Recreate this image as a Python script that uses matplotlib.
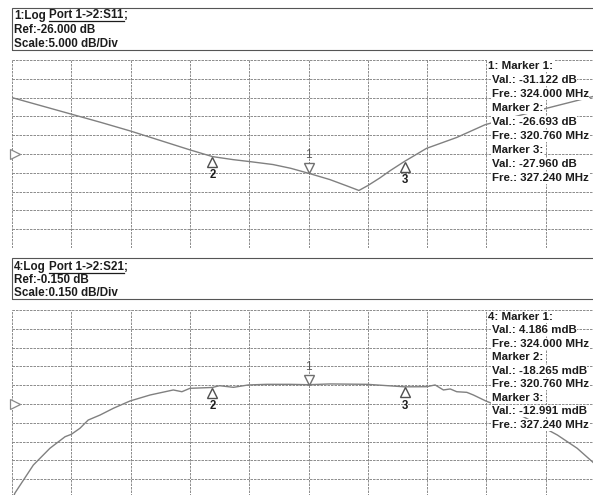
import numpy as np
import matplotlib
matplotlib.use("Agg")
import matplotlib.pyplot as plt
from matplotlib import font_manager as fm
from matplotlib.patches import Rectangle
from matplotlib.lines import Line2D
from matplotlib.transforms import offset_copy, IdentityTransform

# ---- sweep settings ----
f_start, f_stop = 314.0, 334.0          # MHz, 10 divisions
s11_ref, s11_scale = -26.0, 5.0         # dB, dB/div
s21_ref, s21_scale = -0.150, 0.150      # dB, dB/div

# ---- S11 trace (MHz, dB) ----
s11_freq = [314.0, 315.0, 316.0, 317.0, 318.0, 319.0, 320.0, 320.76, 321.46,
            322.0, 322.8, 323.4, 324.0, 324.72, 325.3, 325.7, 326.0, 326.4,
            326.76, 327.24, 327.98, 329.0, 329.96, 331.8, 333.6, 334.0]
s11_db = [-11.0, -13.2, -15.4, -17.6, -19.9, -22.4, -24.9, -26.69, -27.5,
          -28.0, -28.8, -29.8, -31.12, -32.8, -34.5, -35.7, -34.4, -32.4,
          -30.4, -27.96, -24.5, -21.6, -18.2, -14.3, -10.7, -10.0]

# ---- S21 trace (MHz, dB) ----
s21_freq = [314.0, 314.1, 314.72, 315.28, 315.79, 316.0, 316.29, 316.57, 316.97,
            317.42, 317.98, 318.66, 319.44, 319.73, 320.0, 320.76, 321.0, 321.47,
            321.97, 322.59, 323.38, 324.0, 324.72, 325.98, 327.24, 327.99, 328.27,
            328.55, 328.78, 329.0, 329.34, 329.56, 329.98, 331.0, 332.39, 333.06,
            333.57, 334.0]
s21_db = [-0.92, -0.86, -0.637, -0.503, -0.411, -0.392, -0.344, -0.278, -0.238,
          -0.184, -0.126, -0.078, -0.038, -0.052, -0.025, -0.018, -0.004, -0.017,
          0.002, 0.007, 0.007, 0.004, 0.010, 0.007, -0.013, -0.012, 0.002,
          -0.038, -0.030, -0.052, -0.057, -0.078, -0.126, -0.22, -0.397, -0.503,
          -0.61, -0.70]

# ---- markers ----
marker_ids = [1, 2, 3]
marker_freq = [324.000, 320.760, 327.240]
s11_marker_db = [-31.122, -26.693, -27.960]
s21_marker_db = [0.004186, -0.018265, -0.012991]

W, H = 593, 495
fig = plt.figure(figsize=(W / 100, H / 100), dpi=100)
fig.patch.set_facecolor("white")


def bold_font_path():
    for fam in ["Liberation Sans", "Roboto", "Open Sans", "DejaVu Sans"]:
        p = fm.findfont(fm.FontProperties(family=fam, weight="bold"),
                        fallback_to_default=False)
        if "bold" in p.lower():
            return p
    return fm.findfont(fm.FontProperties(weight="bold"))


BOLD = bold_font_path()


def bfont(size):
    return fm.FontProperties(fname=BOLD, size=size)


TXT = "#1c1c1c"
GRID = "#7a7a7a"
TRACE = "#808080"
FS_HEAD = 8.4
FS = 8.25


def fx(x):
    return x / W


def fy(y):
    return 1 - y / H


def header(top, bottom, lines, row_y, underline):
    fig.add_artist(Rectangle((fx(12), fy(bottom)), fx(600 - 12), fy(top) - fy(bottom),
                             transform=fig.transFigure, fill=False,
                             edgecolor="#555555", lw=0.8))
    renderer = fig.canvas.get_renderer()
    pre, mid, post = underline
    t1 = fig.text(fx(14), fy(row_y[0]), pre, fontproperties=bfont(FS_HEAD),
                  color=TXT, va="baseline")
    bb = t1.get_window_extent(renderer)
    t2 = fig.text(bb.x1 / W + fx(3.5), fy(row_y[0]), mid,
                  fontproperties=bfont(FS_HEAD), color=TXT, va="baseline")
    bb2 = t2.get_window_extent(renderer)
    fig.text(bb2.x1 / W, fy(row_y[0]), post, fontproperties=bfont(FS_HEAD),
             color=TXT, va="baseline")
    fig.add_artist(Line2D([bb2.x0, bb2.x1], [bb2.y0 + 0.5, bb2.y0 + 0.5],
                          transform=IdentityTransform(), color=TXT, lw=0.9))
    for txt, y in zip(lines, row_y[1:]):
        fig.text(fx(14), fy(y), txt, fontproperties=bfont(FS_HEAD), color=TXT,
                 va="baseline")


def panel(y_top, ref, scale, freq, vals, mvals):
    ax = fig.add_axes([fx(12), fy(y_top + 188), 1.0, 188 / H])
    ax.set_xlim(f_start, f_stop)
    ax.set_ylim(ref - 5 * scale, ref + 5 * scale)
    ax.set_axis_off()
    for xv in np.linspace(f_start, f_stop, 11):
        ax.axvline(xv, color=GRID, lw=0.6, dashes=(3, 1.2))
    for yv in np.linspace(ref - 5 * scale, ref + 5 * scale, 11):
        ax.axhline(yv, color=GRID, lw=0.6, dashes=(3, 1.2))
    ax.plot(freq, vals, color=TRACE, lw=1.0)
    # reference level pointer
    ax.plot([f_start], [ref], marker=">", ms=7, mfc="white", mec="#888888",
            mew=0.9, clip_on=False,
            transform=offset_copy(ax.transData, fig, x=2.0, y=0, units="points"))
    for mid, mf, mv in zip(marker_ids, marker_freq, mvals):
        if mid == 1:
            tr = offset_copy(ax.transData, fig, x=0, y=3.7, units="points")
            ax.plot([mf], [mv], marker="v", ms=7.5, mfc="white", mec="#707070",
                    mew=1.0, transform=tr)
            ax.annotate(str(mid), (mf, mv), xytext=(0, 13), textcoords="offset points",
                        ha="center", va="center", family="Liberation Sans",
                        fontsize=8.5, color="#555555")
        else:
            tr = offset_copy(ax.transData, fig, x=0, y=-3.7, units="points")
            ax.plot([mf], [mv], marker="^", ms=7.5, mfc="white", mec="#505050",
                    mew=1.0, transform=tr)
            ax.annotate(str(mid), (mf, mv), xytext=(0, -13.5), textcoords="offset points",
                        ha="center", va="center", fontproperties=bfont(8.3),
                        color=TXT)
    return ax


def readout(rows, x0, y0, dy):
    for i, txt in enumerate(rows):
        x = x0 if i == 0 else x0 + 3.5
        fig.text(fx(x), fy(y0 + i * dy), txt, fontproperties=bfont(FS),
                 color=TXT, va="center",
                 bbox=dict(facecolor="white", edgecolor="none", pad=0.6))


# ---- upper panel: S11 ----
header(7.5, 50, [f"Ref:{s11_ref:.3f} dB", f"Scale:{s11_scale:.3f} dB/Div"],
       [18.5, 33, 47], ("1:Log", "Port 1->2:S11", ";"))
panel(60, s11_ref, s11_scale, s11_freq, s11_db, s11_marker_db)
rows = []
for mid, mf, mv in zip(marker_ids, marker_freq, s11_marker_db):
    rows += [("1: " if mid == 1 else "") + f"Marker {mid}:",
             f"Val.: {mv:.3f} dB", f"Fre.: {mf:.3f} MHz"]
readout(rows, 488, 66, 14.0)

# ---- lower panel: S21 ----
header(257.5, 299, [f"Ref:{s21_ref:.3f} dB", f"Scale:{s21_scale:.3f} dB/Div"],
       [270, 283, 295.5], ("4:Log", "Port 1->2:S21", ";"))
panel(310, s21_ref, s21_scale, s21_freq, s21_db, s21_marker_db)
rows = []
for mid, mf, mv in zip(marker_ids, marker_freq, s21_marker_db):
    rows += [("4: " if mid == 1 else "") + f"Marker {mid}:",
             f"Val.: {mv * 1000:.3f} mdB", f"Fre.: {mf:.3f} MHz"]
readout(rows, 488, 316.7, 13.5)

fig.savefig("out.png", dpi=100, facecolor="white")
